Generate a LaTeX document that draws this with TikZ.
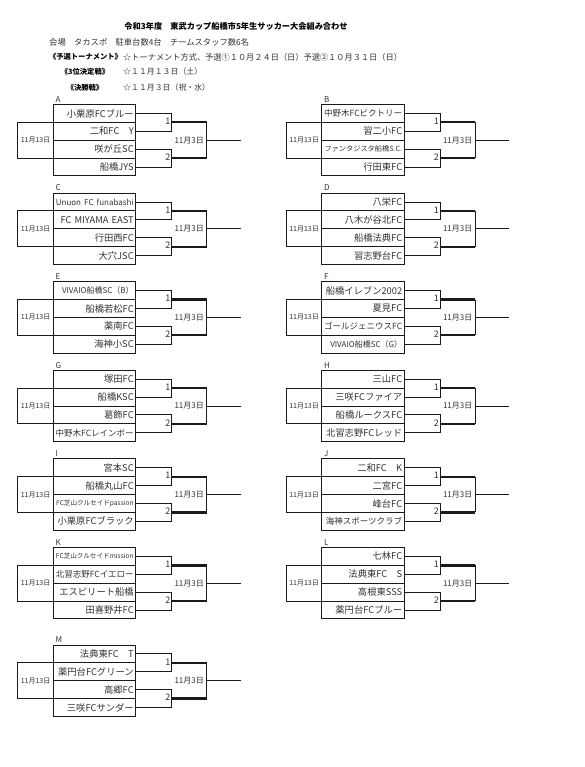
\documentclass[tikz,border=0pt]{standalone}
\usepackage{fontspec}
\setmainfont{Noto Sans CJK JP}
\usetikzlibrary{positioning}
\definecolor{Ink}{HTML}{333333}
\definecolor{RuleInk}{HTML}{1A1A1A}
\tikzset{
  team box/.style={draw=RuleInk, line width=0.9pt, outer sep=0pt, inner xsep=2pt, inner ysep=0pt,
    minimum width=82.4pt, minimum height=17.85pt, text width=78.4pt, align=right, text=Ink,
    font=\fontsize{9.3}{10}\selectfont},
  date box/.style={draw=RuleInk, line width=0.9pt, outer sep=0pt, inner sep=0pt,
    minimum width=35.5pt, minimum height=35.7pt, text=Ink, font=\fontsize{7}{8}\selectfont},
  seed label/.style={text=Ink, font=\fontsize{9}{10}\selectfont, inner sep=1.2pt},
  final date/.style={text=Ink, font=\fontsize{8}{9}\selectfont, inner sep=0pt},
  block tag/.style={text=Ink, font=\fontsize{8}{9}\selectfont, inner sep=0pt},
  bracket line/.style={draw=RuleInk, line width=0.9pt},
  winner line/.style={draw=RuleInk, line width=2.3pt},
  head label/.style={font=\bfseries\fontsize{7.3}{8}\selectfont, inner sep=0pt},
  info text/.style={text=Ink, font=\fontsize{8.2}{9}\selectfont, inner sep=0pt, anchor=west},
}
\newcommand{\teamsize}[2]{{\fontsize{#1}{#1}\selectfont #2}}
% One group: four teams, the 11/13 box on the left, the 11/3 bracket on the right.
\newcommand{\matchblock}[7]{%
  \node[team box, anchor=north west] (#1-1) at (#2,#3) {\mbox{#4}};
  \node[team box, below=0pt of #1-1] (#1-2) {\mbox{#5}};
  \node[team box, below=0pt of #1-2] (#1-3) {\mbox{#6}};
  \node[team box, below=0pt of #1-3] (#1-4) {\mbox{#7}};
  \node[block tag, anchor=base west] (#1-tag) at ([xshift=2pt,yshift=2.3pt]#1-1.north west) {#1};
  \node[date box, anchor=east] (#1-third) at (#1-2.south west) {11月13日};
  \coordinate (#1-m1) at ([xshift=36pt]#1-1.south east);
  \coordinate (#1-m2) at ([xshift=36pt]#1-3.south east);
  \coordinate (#1-f) at ([xshift=71pt]#1-2.south east);
  \coordinate (#1-end) at ([xshift=34pt]#1-f);
  \draw[bracket line] (#1-1.east) -| (#1-m1) |- (#1-2.east);
  \draw[bracket line] (#1-3.east) -| (#1-m2) |- (#1-4.east);
  \node[seed label, anchor=east] (#1-s1) at ([yshift=1pt]#1-m1) {1};
  \node[seed label, anchor=east] (#1-s2) at ([yshift=1pt]#1-m2) {2};
  \draw[winner line] (#1-m1) -- (#1-m1 -| #1-f);
  \draw[winner line] (#1-m2) -- (#1-m2 -| #1-f);
  \draw[bracket line] (#1-m1 -| #1-f) -- (#1-m2 -| #1-f);
  \node[final date] (#1-final) at ([xshift=-17.5pt]#1-f) {11月3日};
  \draw[bracket line] (#1-f) -- (#1-end);
}

\begin{document}
\begin{tikzpicture}[x=1pt, y=-1pt]
  \fill[white] (0,0) rectangle (585,767);
  \useasboundingbox (0,0) rectangle (585,767);

  % Header.
  \node[font=\bfseries\fontsize{8.2}{9}\selectfont] (title) at (236,26)
    {令和3年度　東武カップ船橋市5年生サッカー大会組み合わせ};
  \node[info text, font=\fontsize{8.3}{9}\selectfont] (venue) at (49,42)
    {会場　タカスポ　駐車台数4台　チームスタッフ数6名};
  \node[head label] (prelim-head) at (85.5,57) {《予選トーナメント》};
  \node[info text] (prelim-info) at (123,57)
    {☆トーナメント方式、予選①１０月２４日（日）予選②１０月３１日（日）};
  \node[head label] (third-head) at (85,72) {《3位決定戦》};
  \node[info text, font=\fontsize{7.9}{9}\selectfont] (third-info) at (123,72) {☆１１月１３日（土）};
  \node[head label] (final-head) at (85,88) {《決勝戦》};
  \node[info text, font=\fontsize{7.9}{9}\selectfont] (final-info) at (123,88) {☆１１月３日（祝・水）};

  % Groups, two columns.
  \matchblock{A}{53.3}{104.5}{小栗原FCブルー}{二和FC　Y}{咲が丘SC}{船橋JYS}
  \matchblock{B}{321.8}{104.5}{\teamsize{8.5}{中野木FCビクトリー}}{習二小FC}{\teamsize{7.2}{ファンタジスタ船橋S.C.}}{行田東FC}
  \matchblock{C}{53.3}{193.1}{\teamsize{8}{Unuon FC funabashi}}{\teamsize{9.3}{FC MIYAMA EAST}}{行田西FC}{大穴JSC}
  \matchblock{D}{321.8}{193.1}{八栄FC}{八木が谷北FC}{船橋法典FC}{習志野台FC}
  \matchblock{E}{53.3}{281.7}{\teamsize{8}{VIVAIO船橋SC（B）}}{船橋若松FC}{薬南FC}{海神小SC}
  \matchblock{F}{321.8}{281.7}{船橋イレブン2002}{夏見FC}{\teamsize{8.5}{ゴールジェニウスFC}}{\teamsize{8}{VIVAIO船橋SC（G）}}
  \matchblock{G}{53.3}{370.3}{塚田FC}{船橋KSC}{葛飾FC}{\teamsize{8.5}{中野木FCレインボー}}
  \matchblock{H}{321.8}{370.3}{三山FC}{三咲FCファイア}{船橋ルークスFC}{北習志野FCレッド}
  \matchblock{I}{53.3}{458.9}{宮本SC}{船橋丸山FC}{\teamsize{6.6}{FC芝山クルセイドpassion}}{小栗原FCブラック}
  \matchblock{J}{321.8}{458.9}{二和FC　K}{二宮FC}{峰台FC}{\teamsize{8.5}{海神スポーツクラブ}}
  \matchblock{K}{53.3}{547.5}{\teamsize{6.6}{FC芝山クルセイドmission}}{\teamsize{8.5}{北習志野FCイエロー}}{エスピリート船橋}{田喜野井FC}
  \matchblock{L}{321.8}{547.5}{七林FC}{法典東FC　S}{高根東SSS}{薬円台FCブルー}
  \matchblock{M}{53.3}{645}{法典東FC　T}{薬円台FCグリーン}{高郷FC}{三咲FCサンダー}
\end{tikzpicture}
\end{document}
